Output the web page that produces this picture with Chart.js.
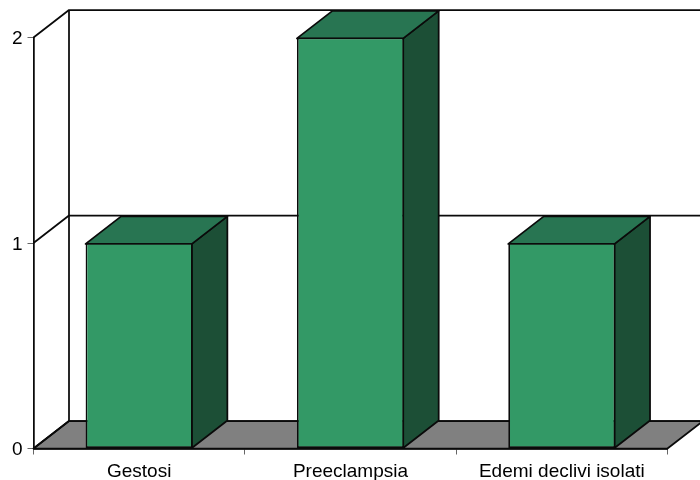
<!DOCTYPE html>
<html>
<head>
<meta charset="utf-8">
<script src="https://cdn.jsdelivr.net/npm/chart.js@4"></script>
<style>html,body{margin:0;padding:0;background:#fff}canvas{display:block}</style>
</head>
<body>
<canvas id="c" width="700" height="480"></canvas>
<script>
const categories = ["Gestosi", "Preeclampsia", "Edemi declivi isolati"];
const values = [1, 2, 1];
const yTicks = [0, 1, 2];
const depthX = 35.5, depthY = 27.5;
const frontColor = "#339966", topColor = "#287552", sideColor = "#1c4f36", floorColor = "#808080", lineColor = "#0a0a0a";
const strokeWidth = 1.75;

const threeD = {
  id: "threeD",
  beforeDatasetsDraw(chart) {
    const {ctx, chartArea: a, scales: {y}} = chart;
    const y0 = y.getPixelForValue(0);
    ctx.save();
    ctx.lineWidth = strokeWidth;
    ctx.lineJoin = "round";
    ctx.strokeStyle = lineColor;
    ctx.fillStyle = floorColor;
    ctx.beginPath();
    ctx.moveTo(a.left, y0);
    ctx.lineTo(a.left + depthX, y0 - depthY);
    ctx.lineTo(a.right + depthX, y0 - depthY);
    ctx.lineTo(a.right, y0);
    ctx.closePath();
    ctx.fill();
    ctx.stroke();
    yTicks.forEach(v => {
      const p = y.getPixelForValue(v);
      ctx.beginPath();
      ctx.moveTo(a.left, p);
      ctx.lineTo(a.left + depthX, p - depthY);
      ctx.lineTo(a.right + depthX, p - depthY);
      ctx.stroke();
    });
    ctx.beginPath();
    ctx.moveTo(a.left + depthX, y0 - depthY);
    ctx.lineTo(a.left + depthX, y.getPixelForValue(2) - depthY);
    ctx.stroke();
    chart.getDatasetMeta(0).data.forEach(b => {
      const l = b.x - b.width / 2, r = b.x + b.width / 2 - strokeWidth / 2, t = b.y + strokeWidth / 2, bt = b.base;
      ctx.fillStyle = sideColor;
      ctx.beginPath();
      ctx.moveTo(r, t);
      ctx.lineTo(r + depthX, t - depthY);
      ctx.lineTo(r + depthX, bt - depthY);
      ctx.lineTo(r, bt);
      ctx.closePath();
      ctx.fill();
      ctx.stroke();
      ctx.fillStyle = topColor;
      ctx.beginPath();
      ctx.moveTo(l, t);
      ctx.lineTo(l + depthX, t - depthY);
      ctx.lineTo(r + depthX, t - depthY);
      ctx.lineTo(r, t);
      ctx.closePath();
      ctx.fill();
      ctx.stroke();
    });
    ctx.restore();
  }
};

new Chart(document.getElementById("c"), {
  type: "bar",
  data: {
    labels: categories,
    datasets: [{
      data: values,
      backgroundColor: frontColor,
      borderColor: lineColor,
      borderWidth: strokeWidth,
      borderSkipped: false,
      barPercentage: 0.507,
      categoryPercentage: 1
    }]
  },
  plugins: [threeD],
  options: {
    responsive: false,
    animation: false,
    layout: {padding: {top: 37.5, right: 32.5, left: 0, bottom: 0}},
    plugins: {legend: {display: false}, tooltip: {enabled: false}},
    scales: {
      x: {
        afterFit(s) { s.height = 31.5; },
        grid: {offset: true, drawOnChartArea: false, tickLength: 6, color: "#666"},
        border: {color: lineColor, width: strokeWidth},
        ticks: {color: "#000", font: {family: "Liberation Sans", size: 19}, padding: 6, maxRotation: 0, autoSkip: false}
      },
      y: {
        min: 0, max: 2,
        afterFit(s) { s.width = 33.5; },
        afterBuildTicks(s) { s.ticks = yTicks.map(v => ({value: v})); },
        grid: {drawOnChartArea: false, tickLength: 6, color: "#666"},
        border: {color: lineColor, width: strokeWidth},
        ticks: {color: "#000", font: {family: "Liberation Sans", size: 19}, padding: 5,
                callback: v => ["", String(v)], font: {family: "Liberation Sans", size: 19, lineHeight: "3px"}}
      }
    }
  }
});
</script>
</body>
</html>
